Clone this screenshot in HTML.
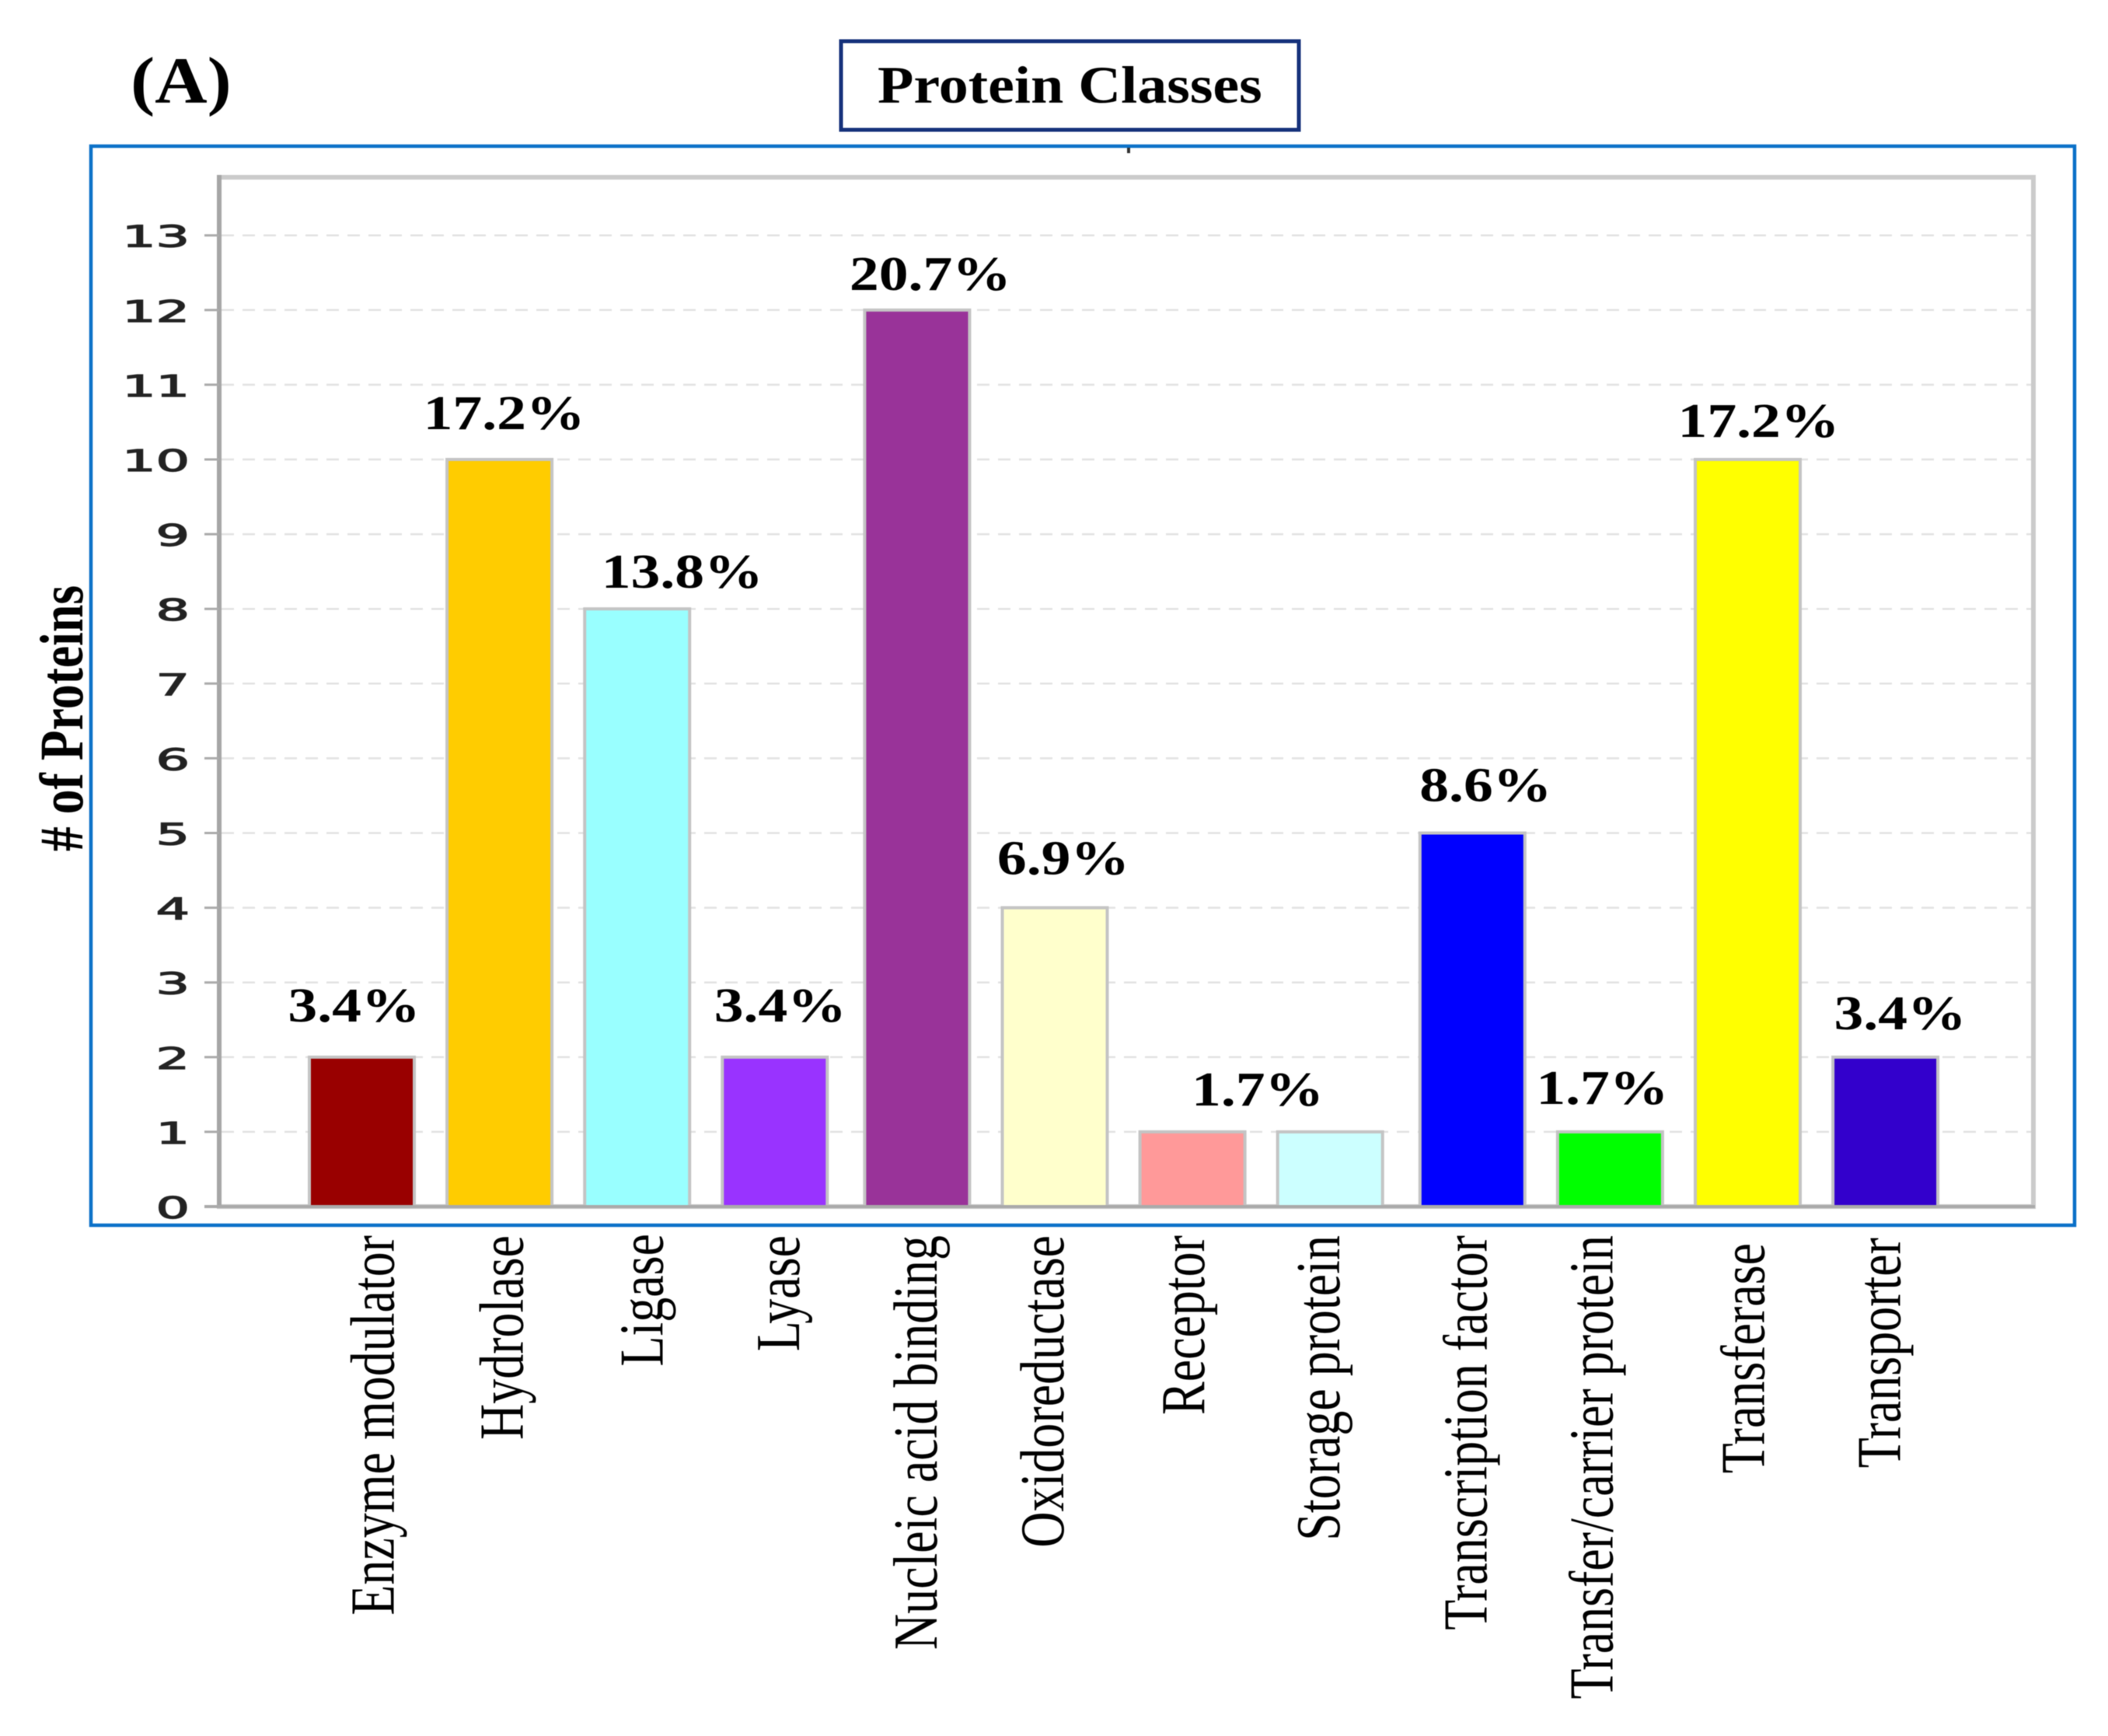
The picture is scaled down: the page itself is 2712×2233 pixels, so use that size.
<!DOCTYPE html>
<html lang="en">
<head>
<meta charset="utf-8">
<title>Protein Classes</title>
<style>
html,body{margin:0;padding:0;background:#fff;width:2712px;height:2233px;overflow:hidden}
svg{display:block;filter:blur(0.6px)}
text{fill:#000}
.serif{font-family:"Liberation Serif",serif}
.tick{font-family:"DejaVu Sans",sans-serif;font-size:38px;fill:#222;stroke:#222;stroke-width:1.2px}
</style>
</head>
<body>
<svg id="chart" width="2712" height="2233" viewBox="0 0 2712 2233" xmlns="http://www.w3.org/2000/svg">
  <text class="serif" font-weight="700" font-size="85" transform="translate(168,132) scale(1.1,1)">(A)</text>
  <rect x="1082" y="53" width="589" height="114" fill="#fff" stroke="#14307a" stroke-width="5"/>
  <text class="serif" font-weight="700" font-size="68" transform="translate(1129,132) scale(1.118,1)">Protein Classes</text>
  <rect x="117" y="188" width="2552" height="1388" fill="#fff" stroke="#0a70c8" stroke-width="4.5"/>
  <rect x="1450" y="190" width="4" height="7" fill="#333"/>
  <g id="grid"></g>
  <rect x="282" y="228" width="2334" height="1324" fill="none" stroke="#cbcbcb" stroke-width="6"/>
  <g id="bars"></g>
  <line x1="282" y1="225" x2="282" y2="1554" stroke="#a6a6a6" stroke-width="6"/>
  <line x1="263" y1="1552" x2="2618" y2="1552" stroke="#aaa" stroke-width="4"/>
  <g id="yticks"></g>
  <g id="pcts"></g>
  <g id="cats"></g>
  <text class="serif" font-weight="700" font-size="79" text-anchor="middle" transform="translate(106,924) rotate(-90) scale(0.807,1)"># of Proteins</text>
</svg>
<script>
const categories = ['Enzyme modulator','Hydrolase','Ligase','Lyase','Nucleic acid binding','Oxidoreductase','Receptor','Storage protein','Transcription factor','Transfer/carrier protein','Transferase','Transporter'];
const proteinCounts = [2,10,8,2,12,4,1,1,5,1,10,2];
const percentLabels = ['3.4%','17.2%','13.8%','3.4%','20.7%','6.9%','1.7%','','8.6%','1.7%','17.2%','3.4%'];
const yTickValues = [0,1,2,3,4,5,6,7,8,9,10,11,12,13];
const barColors = ['#990000','#FFCC00','#99FFFF','#9933FF','#993399','#FFFFCC','#FF9999','#CCFFFF','#0000FF','#00FF00','#FFFF00','#3300CC'];
// hand-placed annotation nudges relative to each data-driven mark
const labelNudgeX = [-10,6,58,7,17,11,84,0,17,-10,14,19];
const labelNudgeY = [46,39,27,46,26,43,34,0,41,36,29,36];
const catNudgeX = [41,30,33,31,25,11,15,12,18,3,21,19];
const catNudgeStart = [0,0,-2,0,0,0,0,0,0,0,10,3];

const NS = 'http://www.w3.org/2000/svg';
const yScale = v => 1552 - v * 96.1;
const bandCenter = i => 465.5 + 177.1 * i + (i >= 4 ? 6 : 0) + (i >= 8 ? 6 : 0);
const barWidth = 135;

function make(tag, attrs, parent) {
  const el = document.createElementNS(NS, tag);
  for (const k in attrs) el.setAttribute(k, attrs[k]);
  parent.appendChild(el);
  return el;
}

const grid = document.getElementById('grid');
const ticks = document.getElementById('yticks');
yTickValues.forEach(v => {
  if (v > 0) {
    const g = make('line', {x1:285, x2:2613, y1:yScale(v), y2:yScale(v), stroke:'#e2e2e2', 'stroke-width':2.5, 'stroke-dasharray':'16 11'}, grid);
    
    
  }
  const t = make('line', {x1:263, x2:282, y1:yScale(v), y2:yScale(v), stroke:'#aaa', 'stroke-width':3}, ticks);
  
  
  const l = make('text', {class:'tick', 'text-anchor':'end', transform:'translate(244,' + (yScale(v) + 15) + ') scale(1.8,1)'}, ticks);
  l.textContent = v;
  
  
});

const bars = document.getElementById('bars');
const pcts = document.getElementById('pcts');
const cats = document.getElementById('cats');
categories.forEach((name, i) => {
  const cx = bandCenter(i);
  const top = yScale(proteinCounts[i]);
  const b = make('rect', {x:cx - barWidth/2, y:top, width:barWidth, height:yScale(0) - top, fill:barColors[i], stroke:'#c4c4c4', 'stroke-width':4}, bars);
  
  
  if (percentLabels[i]) {
    const p = make('text', {class:'serif', 'font-weight':700, 'font-size':62, 'text-anchor':'middle', transform:'translate(' + (cx + labelNudgeX[i]) + ',' + (top - labelNudgeY[i]) + ') scale(1.22,1)'}, pcts);
    p.textContent = percentLabels[i];
    
    
  }
  const c = make('text', {class:'serif', 'font-size':80, 'text-anchor':'end', transform:'translate(' + (cx + catNudgeX[i]) + ',' + (1589 + catNudgeStart[i]) + ') rotate(-90) scale(0.8,1)'}, cats);
  c.textContent = name;
  
  
});
</script>
</body>
</html>
